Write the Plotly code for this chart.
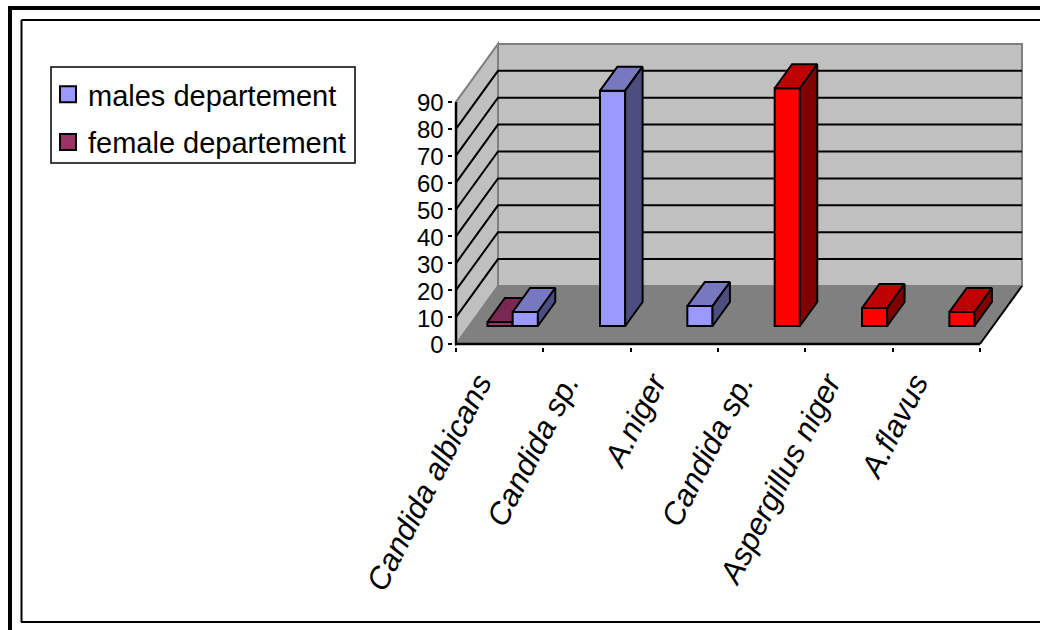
import plotly.graph_objects as go

# ---- data ----
categories = ["Candida albicans", "Candida sp.", "A.niger", "Candida sp.", "Aspergillus niger", "A.flavus"]
males_values = [5.2, 87.5, 7.4, 88.4, 6.7, 5.2]
female_values = [1.5, None, None, None, None, None]
male_series_name = "males departement"
female_series_name = "female departement"
value_ticks = [0, 10, 20, 30, 40, 50, 60, 70, 80, 90]

# ---- page and plot geometry ----
W, H = 1040, 630
UNIT_X = 87.33          # px per category
UNIT_Y = 2.69           # px per value unit
ORIGIN_PX = (456, 344)  # where category 0 / value 0 lands
PAD_X, PAD_Y = 0.03, 1.0
X_MAX, Y_MAX = 6.58, 116.7

# oblique depth of the floor, in axis units
DEPTH_X = 42 / UNIT_X
DEPTH_Y = 58 / UNIT_Y
# bars occupy this slice of the floor depth
D_FRONT, D_BACK = 0.31, 0.724
BAR_W = 25.2 / UNIT_X
N = len(categories)
V_MAX = value_ticks[-1]

# face colours: front, top, side
BLUE = ("#9999FF", "#7878C0", "#4D4D80")
RED = ("#FF0000", "#BF0000", "#800000")
PLUM = ("#993366", "#7A2852", "#4D1933")
male_faces = [BLUE, BLUE, BLUE, RED, RED, RED]


def project(x, y, d):
    return x + d * DEPTH_X, y + d * DEPTH_Y


def box_faces(left, value, faces, xaxis, yaxis):
    """Front, top and side of one bar, floor offset included."""
    base_y = D_FRONT * DEPTH_Y
    right = left + BAR_W
    top = base_y + value
    dd = D_BACK - D_FRONT
    out = []
    front_x = left + BAR_W / 2
    out.append(go.Bar(x=[front_x], y=[value], base=[base_y], width=[BAR_W],
                      marker=dict(color=faces[0], line=dict(color="black", width=2)),
                      xaxis=xaxis, yaxis=yaxis, showlegend=False, hoverinfo="skip"))
    top_pts = [(left, top, 0), (right, top, 0), (right, top, dd), (left, top, dd), (left, top, 0)]
    side_pts = [(right, top, 0), (right, base_y, 0), (right, base_y, dd), (right, top, dd), (right, top, 0)]
    for pts, col in ((top_pts, faces[1]), (side_pts, faces[2])):
        xs, ys = zip(*[project(*p) for p in pts])
        out.append(go.Scatter(x=list(xs), y=list(ys), mode="lines", fill="toself", fillcolor=col,
                              line=dict(color="black", width=2), xaxis=xaxis, yaxis=yaxis,
                              showlegend=False, hoverinfo="skip"))
    return out


fig = go.Figure()

# female series sits left of each cluster centre, on the lower axes pair
for i, v in enumerate(female_values):
    if v is None:
        continue
    left = i + 0.5 + D_FRONT * DEPTH_X - BAR_W
    for t in box_faces(left, v, PLUM, "x", "y"):
        fig.add_trace(t)

# male series sits right of the cluster centre, on the overlaid axes pair
for i, v in enumerate(males_values):
    left = i + 0.5 + D_FRONT * DEPTH_X
    for t in box_faces(left, v, male_faces[i], "x2", "y2"):
        fig.add_trace(t)

# legend entries
fig.add_trace(go.Scatter(x=[None], y=[None], mode="markers", name=male_series_name, legendgroup="m",
                         marker=dict(symbol="square", size=17, color=BLUE[0], line=dict(color="black", width=2))))
fig.add_trace(go.Scatter(x=[None], y=[None], mode="markers", name=female_series_name, legendgroup="f",
                         marker=dict(symbol="square", size=17, color=PLUM[0], line=dict(color="black", width=2))))

# walls, floor and gridlines
shapes = []
def poly(points, fill=None, line_color=None, width=0, layer="below"):
    path = "M " + " L ".join(f"{x},{y}" for x, y in points) + (" Z" if fill else "")
    shapes.append(dict(type="path", path=path, xref="x", yref="y", fillcolor=fill or "rgba(0,0,0,0)",
                       line=dict(color=line_color or "rgba(0,0,0,0)", width=width), layer=layer))

bx0, by0 = project(0, 0, 1)
bx1, by1 = project(N, 0, 1)
_, by_top = project(0, V_MAX, 1)
poly([(0, 0), (bx0, by0), (bx0, by_top), (0, V_MAX)], "#C0C0C0", "#808080", 2)
poly([(bx0, by0), (bx1, by1), (bx1, by_top), (bx0, by_top)], "#C0C0C0", "#808080", 2)
poly([(0, 0), (N, 0), (bx1, by1), (bx0, by0)], "#808080")
for v in value_ticks[1:-1]:
    _, gy = project(0, v, 1)
    poly([(0, v), (bx0, gy), (bx1, gy)], None, "black", 2)
poly([(N, 0), (bx1, by1)], None, "black", 2)
# axis lines
poly([(0, V_MAX), (0, 0), (N, 0)], None, "black", 2.5)

# page frames running off the top and right of the page
def px_line(x0, y0, x1, y1, width):
    shapes.append(dict(type="line", xref="paper", yref="paper", x0=x0 / W, x1=x1 / W,
                       y0=1 - y0 / H, y1=1 - y1 / H, line=dict(color="black", width=width), layer="above"))

px_line(10, 8, 1040, 8, 4)
px_line(10, 6, 10, 630, 4)
px_line(21.5, 20, 1040, 20, 2)
px_line(21.5, 20, 21.5, 622, 2)
px_line(21, 622, 1040, 622, 2)

# legend frame, tighter round the entries than the legend's own border
shapes.append(dict(type="rect", xref="paper", yref="paper", x0=51 / W, x1=355 / W,
                   y0=1 - 163 / H, y1=1 - 67 / H, line=dict(color="black", width=1.5),
                   fillcolor="white", layer="above"))

left_px = ORIGIN_PX[0] - PAD_X * UNIT_X
right_px = ORIGIN_PX[0] + X_MAX * UNIT_X
bottom_px = ORIGIN_PX[1] + PAD_Y * UNIT_Y
top_px = ORIGIN_PX[1] - Y_MAX * UNIT_Y
x_dom = [left_px / W, right_px / W]
y_dom = [1 - bottom_px / H, 1 - top_px / H]

LABEL_FONT = "Liberation Sans"
fig.update_layout(
    width=W, height=H, autosize=False,
    margin=dict(l=0, r=0, t=0, b=0, autoexpand=False),
    paper_bgcolor="white", plot_bgcolor="rgba(0,0,0,0)",
    barmode="overlay",
    shapes=shapes,
    font=dict(family=LABEL_FONT, color="black"),
    xaxis=dict(domain=x_dom, range=[-PAD_X, X_MAX], showgrid=False, zeroline=False, showline=False,
               tickmode="array", tickvals=[i + 0.5 for i in range(N)], ticktext=categories,
               tickangle=-63, ticks="", ticklen=0, ticklabelshift=-21, ticklabelstandoff=11,
               tickfont=dict(family=LABEL_FONT, size=31, style="italic", color="black")),
    yaxis=dict(domain=y_dom, range=[-PAD_Y, Y_MAX], showgrid=False, zeroline=False, showline=False,
               tickmode="array", tickvals=value_ticks, ticks="outside", ticklen=4, tickwidth=2,
               ticklabelshift=1,
               tickcolor="black", tickfont=dict(family=LABEL_FONT, size=24, color="black")),
    xaxis2=dict(domain=x_dom, range=[-PAD_X, X_MAX], overlaying="x", anchor="y2", showgrid=False,
                zeroline=False, showline=False, tickmode="array", tickvals=list(range(N + 1)),
                showticklabels=False, ticks="outside", ticklen=4, tickwidth=2, tickcolor="black"),
    yaxis2=dict(domain=y_dom, range=[-PAD_Y, Y_MAX], overlaying="y", anchor="x2", showgrid=False,
                zeroline=False, showline=False, showticklabels=False, ticks=""),
    legend=dict(x=48 / W, y=1 - 69 / H, xanchor="left", yanchor="top",
                bgcolor="rgba(0,0,0,0)", borderwidth=0,
                font=dict(family=LABEL_FONT, size=29, color="black"),
                traceorder="grouped", tracegroupgap=7, itemsizing="trace"),
    showlegend=True,
)

fig.write_html("out.html", config=dict(displayModeBar=False))
